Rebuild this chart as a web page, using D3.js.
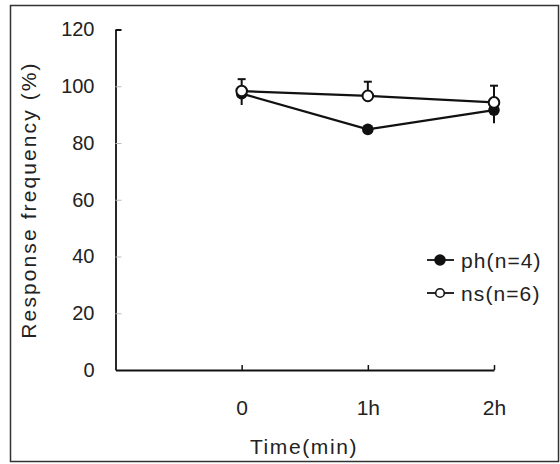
<!DOCTYPE html>
<html>
<head>
<meta charset="utf-8">
<script src="https://cdn.jsdelivr.net/npm/d3@7"></script>
<style>
  body { margin: 0; background: #fff; }
  svg { display: block; font-family: "Liberation Sans", Arial, sans-serif; }
</style>
</head>
<body>
<div class="chart"></div>
<script>
const times = ["0", "1h", "2h"];
const phMean = [97.4, 84.8, 91.6];
const phErr = [4.0, 0.8, 4.6];
const nsMean = [98.3, 96.6, 94.3];
const nsErr = [4.2, 5.0, 5.9];
const yTicks = [0, 20, 40, 60, 80, 100, 120];
const legendLabels = ["ph(n=4)", "ns(n=6)"];

const W = 560, H = 464;
const X0 = 115.5, X1 = 494, Y0 = 370, Y1 = 29.5;

const xScale = d3.scaleLinear().domain([-1, 2]).range([X0, X1]);
const yScale = d3.scaleLinear().domain([0, 120]).range([Y0, Y1]);

const svg = d3.select(".chart").append("svg")
  .attr("width", W).attr("height", H);

// frame
svg.append("rect")
  .attr("x", 10.5).attr("y", 5.5).attr("width", 548).attr("height", 456)
  .attr("fill", "none").attr("stroke", "#333").attr("stroke-width", 1.5);

// axes
const yAxis = d3.axisLeft(yScale).tickValues(yTicks)
  .tickSizeInner(-6).tickSizeOuter(0).tickPadding(21);
const gy = svg.append("g").attr("transform", `translate(${X0},0)`).call(yAxis);
gy.select(".domain").attr("stroke", "#111").attr("stroke-width", 1.8);
gy.selectAll(".tick line").attr("stroke", "#bbb");
gy.select(".tick:last-of-type line").attr("stroke", "#111").attr("stroke-width", 2);
gy.selectAll("text").attr("font-size", 20).attr("fill", "#222");

const xAxis = d3.axisBottom(xScale).tickValues([0, 1, 2])
  .tickFormat((d) => times[d]).tickSizeInner(-5).tickSizeOuter(0).tickPadding(30);
const gx = svg.append("g").attr("transform", `translate(0,${Y0})`).call(xAxis);
gx.select(".domain").attr("stroke", "#111").attr("stroke-width", 1.8);
gx.selectAll(".tick line").attr("stroke", "#111").attr("stroke-width", 1.5);
gx.selectAll("text").attr("font-size", 21).attr("fill", "#222");

// axis titles
svg.append("text")
  .attr("transform", "translate(36,200) rotate(-90)")
  .attr("text-anchor", "middle")
  .attr("font-size", 21).attr("letter-spacing", 2.1).attr("fill", "#222")
  .text("Response frequency (%)");

svg.append("text")
  .attr("x", 304).attr("y", 454)
  .attr("text-anchor", "middle")
  .attr("font-size", 21).attr("letter-spacing", 1.6).attr("fill", "#222")
  .text("Time(min)");

const line = d3.line().x((d, i) => xScale(i)).y((d) => yScale(d));

// ph error bars (downward)
svg.selectAll(".ph-err").data(phMean).enter().append("line")
  .attr("x1", (d, i) => xScale(i)).attr("x2", (d, i) => xScale(i))
  .attr("y1", (d) => yScale(d))
  .attr("y2", (d, i) => yScale(d - phErr[i]))
  .attr("stroke", "#111").attr("stroke-width", 2);

// ns error bars (upward with caps)
svg.selectAll(".ns-err").data(nsMean).enter().append("line")
  .attr("x1", (d, i) => xScale(i)).attr("x2", (d, i) => xScale(i))
  .attr("y1", (d) => yScale(d))
  .attr("y2", (d, i) => yScale(d + nsErr[i]))
  .attr("stroke", "#111").attr("stroke-width", 2);
svg.selectAll(".ns-cap").data(nsMean).enter().append("line")
  .attr("x1", (d, i) => xScale(i) - 4).attr("x2", (d, i) => xScale(i) + 4)
  .attr("y1", (d, i) => yScale(d + nsErr[i]))
  .attr("y2", (d, i) => yScale(d + nsErr[i]))
  .attr("stroke", "#111").attr("stroke-width", 2);

// lines
svg.append("path").datum(phMean).attr("d", line)
  .attr("fill", "none").attr("stroke", "#111").attr("stroke-width", 2.2);
svg.append("path").datum(nsMean).attr("d", line)
  .attr("fill", "none").attr("stroke", "#111").attr("stroke-width", 2.2);

// markers
svg.selectAll(".ph-pt").data(phMean).enter().append("circle")
  .attr("cx", (d, i) => xScale(i)).attr("cy", (d) => yScale(d))
  .attr("r", 5.8).attr("fill", "#111");
svg.selectAll(".ns-pt").data(nsMean).enter().append("circle")
  .attr("cx", (d, i) => xScale(i)).attr("cy", (d) => yScale(d))
  .attr("r", 5.3).attr("fill", "#fff").attr("stroke", "#111").attr("stroke-width", 2);

// legend
const legend = svg.selectAll(".legend").data(legendLabels).enter().append("g")
  .attr("transform", (d, i) => `translate(427,${260 + i * 33})`);
legend.append("line").attr("x1", 0).attr("x2", 27).attr("y1", 0).attr("y2", 0)
  .attr("stroke", "#111").attr("stroke-width", 1.8);
legend.append("circle").attr("cx", 13).attr("cy", 0)
  .attr("r", (d, i) => i === 0 ? 5 : 4.3)
  .attr("fill", (d, i) => i === 0 ? "#111" : "#fff")
  .attr("stroke", "#111").attr("stroke-width", 1.6);
legend.append("text").attr("x", 34).attr("y", 7.5)
  .attr("font-size", 21).attr("letter-spacing", 1.1).attr("fill", "#222")
  .text((d) => d);
</script>
</body>
</html>
